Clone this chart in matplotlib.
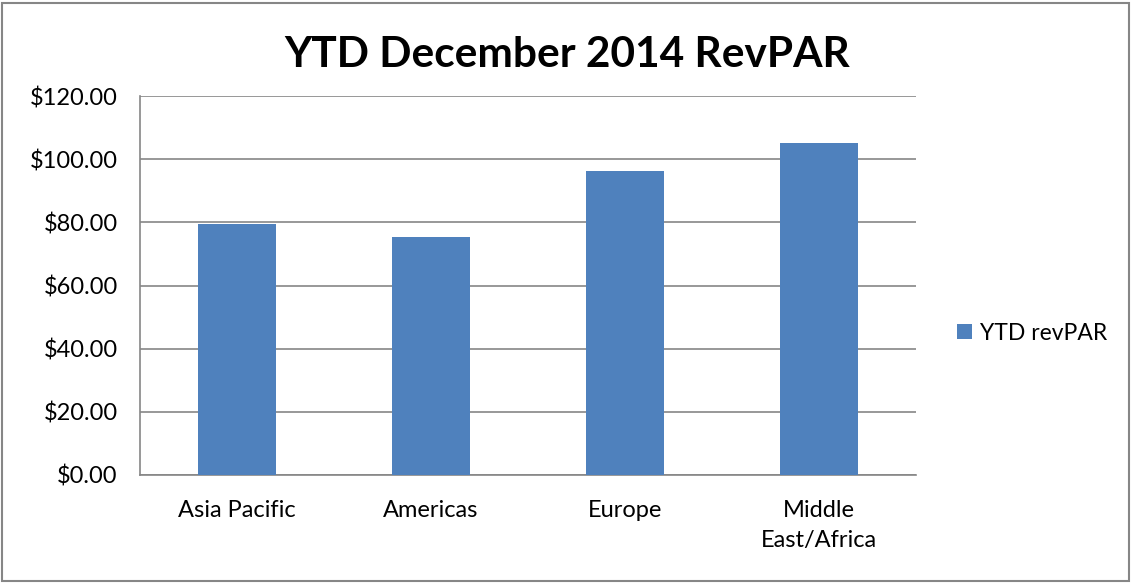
import matplotlib
matplotlib.use("Agg")
import matplotlib.pyplot as plt
from matplotlib.patches import Rectangle

categories = ["Asia Pacific", "Americas", "Europe", "Middle\nEast/Africa"]
values = [79.4, 75.4, 96.4, 105.2]
yticks = [0, 20, 40, 60, 80, 100, 120]
series_name = "YTD revPAR"
title = "YTD December 2014 RevPAR"

plt.rcParams['font.family'] = ['Lato', 'DejaVu Sans']

fig = plt.figure(figsize=(11.33, 5.83), dpi=100)
ax = fig.add_axes([140/1133, 1-475/583, 776/1133, 379/583])

x = list(range(len(categories)))
ax.bar(x, values, width=0.4, color="#4F81BD", label=series_name, zorder=3)
ax.set_xlim(-0.5, len(categories) - 0.5)
ax.set_ylim(0, 120)
ax.set_yticks(yticks)
ax.set_yticklabels([f"${v:.2f}" for v in yticks], fontsize=17)
ax.set_xticks(x)
ax.set_xticklabels(categories, fontsize=17, linespacing=1.55)
ax.grid(axis="y", color="#868686", linewidth=1.2, zorder=0)
for s in ["top", "right"]:
    ax.spines[s].set_visible(False)
ax.spines["left"].set_color("#868686")
ax.spines["bottom"].set_color("#868686")
ax.spines["left"].set_linewidth(1.2)
ax.spines["bottom"].set_linewidth(1.2)
ax.tick_params(axis="y", length=0, pad=16)
ax.tick_params(axis="x", length=0, pad=18)

fig.text(567/1133, 1-55/583, title, ha="center", va="center", fontsize=30.5, fontweight="bold")

leg = ax.legend(loc="center left", bbox_to_anchor=(936/1133, 1-333/583), bbox_transform=fig.transFigure,
                frameon=False, fontsize=16.5, handlelength=0.65, handleheight=0.65, handletextpad=0.35)

fig.patches.append(Rectangle((2/1133, 2/583), 1127/1133, 578/583, transform=fig.transFigure,
                             fill=False, edgecolor="#868686", linewidth=1.5))

fig.savefig("out.png", dpi=100)
